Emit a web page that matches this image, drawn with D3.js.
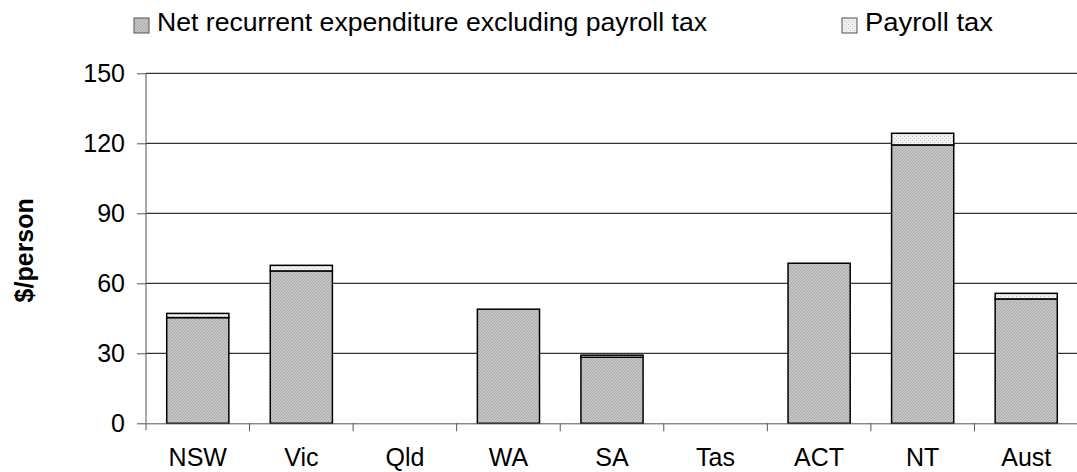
<!DOCTYPE html>
<html><head><meta charset="utf-8">
<script src="https://cdn.jsdelivr.net/npm/d3@7"></script>
<style>body{margin:0;background:#fff}svg{display:block}text{font-family:"Liberation Sans",Arial,sans-serif;fill:#000}</style>
</head><body><svg id="c" width="1077" height="472"></svg>
<script>
const categories = ["NSW","Vic","Qld","WA","SA","Tas","ACT","NT","Aust"];
const netExpenditure = [45.3, 65.3, 0, 48.9, 28.3, 0, 68.6, 119.3, 53.3];
const payrollTax = [1.8, 2.4, 0, 0, 0.9, 0, 0, 5.0, 2.4];
const seriesNames = ["Net recurrent expenditure excluding payroll tax", "Payroll tax"];
const yTicks = [0, 30, 60, 90, 120, 150];

const svg = d3.select("#c");
const defs = svg.append("defs");
const p1 = defs.append("pattern").attr("id","hatch").attr("patternUnits","userSpaceOnUse").attr("width",3).attr("height",3);
p1.append("rect").attr("width",3).attr("height",3).attr("fill","#c6c6c6");
p1.append("path").attr("d","M0,3 L3,0").attr("stroke","#a8a8a8").attr("stroke-width",1);
const p2 = defs.append("pattern").attr("id","dots").attr("patternUnits","userSpaceOnUse").attr("width",4).attr("height",4);
p2.append("rect").attr("width",4).attr("height",4).attr("fill","#efefef");
p2.append("rect").attr("x",0).attr("y",0).attr("width",1).attr("height",1).attr("fill","#c8c8c8");
p2.append("rect").attr("x",2).attr("y",2).attr("width",1).attr("height",1).attr("fill","#c8c8c8");

const pL = 146, pR = 1078, pT = 73.3, pB = 423.3;
const x = d3.scaleBand().domain(categories).range([pL, pR]).paddingInner(0.4).paddingOuter(0.2);
const y = d3.scaleLinear().domain([0,150]).range([pB, pT]);

svg.append("g").selectAll("line").data(yTicks.filter(d=>d>0)).join("line")
  .attr("x1", pL).attr("x2", pR).attr("y1", d=>y(d)).attr("y2", d=>y(d))
  .attr("stroke","#000").attr("stroke-width",1);

const data = categories.map((c,i)=>({c, net: netExpenditure[i], pay: payrollTax[i]}));
const bars = svg.append("g");
bars.selectAll("rect.net").data(data.filter(d=>d.net>0)).join("rect").attr("class","net")
  .attr("x", d=>x(d.c)).attr("width", x.bandwidth())
  .attr("y", d=>y(d.net)).attr("height", d=>y(0)-y(d.net))
  .attr("fill","url(#hatch)").attr("stroke","#000").attr("stroke-width",1.5);
bars.selectAll("rect.pay").data(data.filter(d=>d.pay>0)).join("rect").attr("class","pay")
  .attr("x", d=>x(d.c)).attr("width", x.bandwidth())
  .attr("y", d=>y(d.net+d.pay)).attr("height", d=>y(d.net)-y(d.net+d.pay))
  .attr("fill","url(#dots)").attr("stroke","#000").attr("stroke-width",1.5);

const yAxis = d3.axisLeft(y).tickValues(yTicks).tickSize(9).tickPadding(12);
const gy = svg.append("g").attr("transform",`translate(${pL},0)`).call(yAxis);
gy.select(".domain").attr("stroke","#555").attr("d", `M-0,${pT}V${pB+7}`);
gy.selectAll(".tick line").attr("stroke","#555");
gy.selectAll(".tick text").style("font-size","25px").attr("fill","#000");

const xAxis = d3.axisBottom(x).tickSize(0).tickPadding(28);
const gx = svg.append("g").attr("transform",`translate(0,${pB})`).call(xAxis);
gx.select(".domain").attr("stroke","#555");
gx.selectAll(".tick text").style("font-size","25px").attr("fill","#000").attr("dy", null).attr("y", 43);
const step = x.step();
const bounds = categories.map((c)=> x(c) - x.paddingInner()*step/2);
svg.append("g").selectAll("line").data(bounds.slice(1)).join("line")
  .attr("x1", d=>d).attr("x2", d=>d).attr("y1", pB).attr("y2", pB+8)
  .attr("stroke","#555");

svg.append("text").attr("transform",`translate(33,${(pT+pB)/2+2}) rotate(-90)`)
  .attr("text-anchor","middle").style("font-size","25px").style("font-weight","bold").text("$/person");

const legX = [134, 842];
const legLen = [550, 128];
const leg = svg.append("g");
seriesNames.forEach((s,i)=>{
  leg.append("rect").attr("x", legX[i]).attr("y", 18).attr("width", 15).attr("height", 15)
    .attr("fill", i===0 ? "url(#hatch)" : "url(#dots)").attr("stroke","#555").attr("stroke-width",1);
  leg.append("text").attr("x", legX[i]+23).attr("y", 31).style("font-size","26px")
    .attr("textLength", legLen[i]).attr("lengthAdjust","spacingAndGlyphs").text(s);
});
</script></body></html>
